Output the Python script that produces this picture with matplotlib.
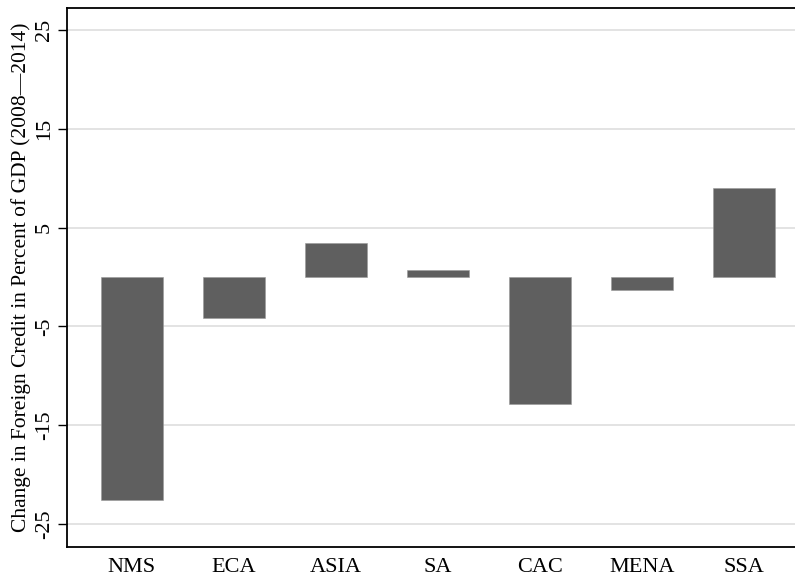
import matplotlib.pyplot as plt
import numpy as np

# Change in foreign credit, percent of GDP (2008-2014), by region
regions = ['NMS', 'ECA', 'ASIA', 'SA', 'CAC', 'MENA', 'SSA']
change = [-22.6, -4.1, 3.4, 0.7, -12.9, -1.3, 9.0]
yticks = [-25, -15, -5, 5, 15, 25]

plt.rcParams['font.family'] = ['Liberation Serif', 'DejaVu Serif']

fig = plt.figure(figsize=(7.95, 5.79), dpi=100)
ax = fig.add_axes([0.0843, 0.0561, 0.932, 0.930])

x = np.arange(len(regions))
ax.bar(x, change, width=0.61, color='#5f5f5f', edgecolor='#9a9a9a',
       linewidth=0.4, zorder=3)

ax.set_xlim(-0.634, 6.63)
ax.set_ylim(-27.3, 27.25)
ax.set_yticks(yticks)
ax.set_yticklabels([str(t) for t in yticks], rotation=90, va='center',
                   fontsize=16)
ax.set_xticks(x)
ax.set_xticklabels(regions, fontsize=16)
ax.tick_params(axis='x', length=0, pad=8)
ax.tick_params(axis='y', length=6.5, width=1, pad=3)

ax.grid(axis='y', color='#e0e0e0', linewidth=1.3, zorder=0)
ax.set_axisbelow(True)

for side in ['top', 'left', 'bottom']:
    ax.spines[side].set_linewidth(1.3)
ax.spines['right'].set_visible(False)

ax.set_ylabel('Change in Foreign Credit in Percent of GDP (2008\u20142014)',
              fontsize=15.5, labelpad=3)

fig.savefig('out.png', dpi=100)
